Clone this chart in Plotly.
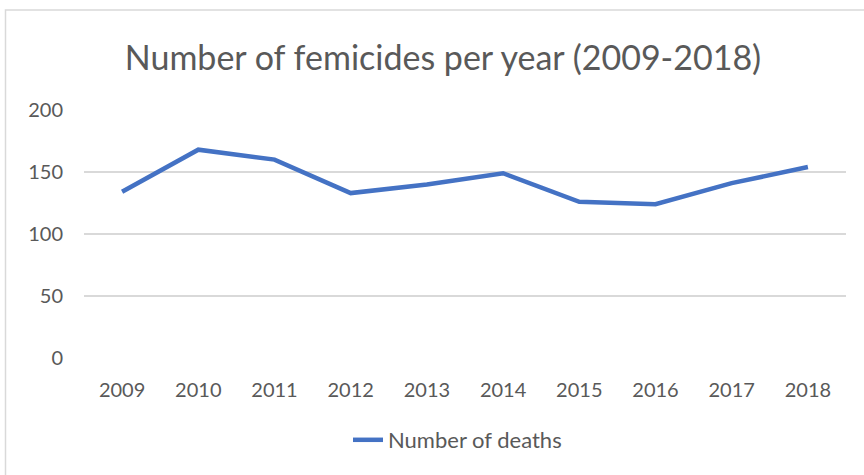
import plotly.graph_objects as go

years = ["2009", "2010", "2011", "2012", "2013", "2014", "2015", "2016", "2017", "2018"]
deaths = [134, 168, 160, 133, 140, 149, 126, 124, 141, 154]
y_ticks = [0, 50, 100, 150, 200]

W, H = 864, 475
L, R, T, B = 84, 18, 110, 117
pw, ph = W - L - R, H - T - B

def px_x(p):
    return (p - L) / pw

def px_y(p):
    return (H - B - p) / ph

txt = "#595959"
fnt = "Lato, Carlito, 'Open Sans', sans-serif"

fig = go.Figure()
fig.add_trace(go.Scatter(
    x=years, y=deaths, mode="lines", name="Number of deaths",
    line=dict(color="#4472C4", width=4.5),
))

fig.update_layout(
    width=W, height=H,
    margin=dict(l=L, r=R, t=T, b=B),
    paper_bgcolor="white", plot_bgcolor="white",
    font=dict(family=fnt, color=txt, size=20),
    title=dict(text="Number of femicides per year (2009-2018)",
               x=443 / W, xanchor="center", y=1 - 58 / H, yanchor="middle",
               font=dict(size=34, color=txt, family=fnt)),
    showlegend=True,
    legend=dict(orientation="h", x=px_x(348), xanchor="left", y=px_y(440), yanchor="middle",
                font=dict(size=22, color=txt, family=fnt), bgcolor="rgba(0,0,0,0)"),
    xaxis=dict(type="category", range=[-0.5, 9.5], showgrid=False, showline=False,
               zeroline=False, ticks="", ticklabelstandoff=18,
               tickfont=dict(size=20, color=txt)),
    yaxis=dict(range=[0, 200], tickvals=y_ticks, showgrid=True, gridcolor="#d9d9d9",
               gridwidth=1.5, zeroline=False, showline=False, ticks="",
               ticklabelstandoff=20, tickfont=dict(size=20, color=txt)),
)

fig.add_shape(type="rect", xref="paper", yref="paper",
              x0=px_x(5.5), x1=px_x(W + 20), y0=px_y(H + 20), y1=px_y(10),
              line=dict(color="#d9d9d9", width=1.5), fillcolor="rgba(0,0,0,0)", layer="below")

fig.write_html("out.html")
